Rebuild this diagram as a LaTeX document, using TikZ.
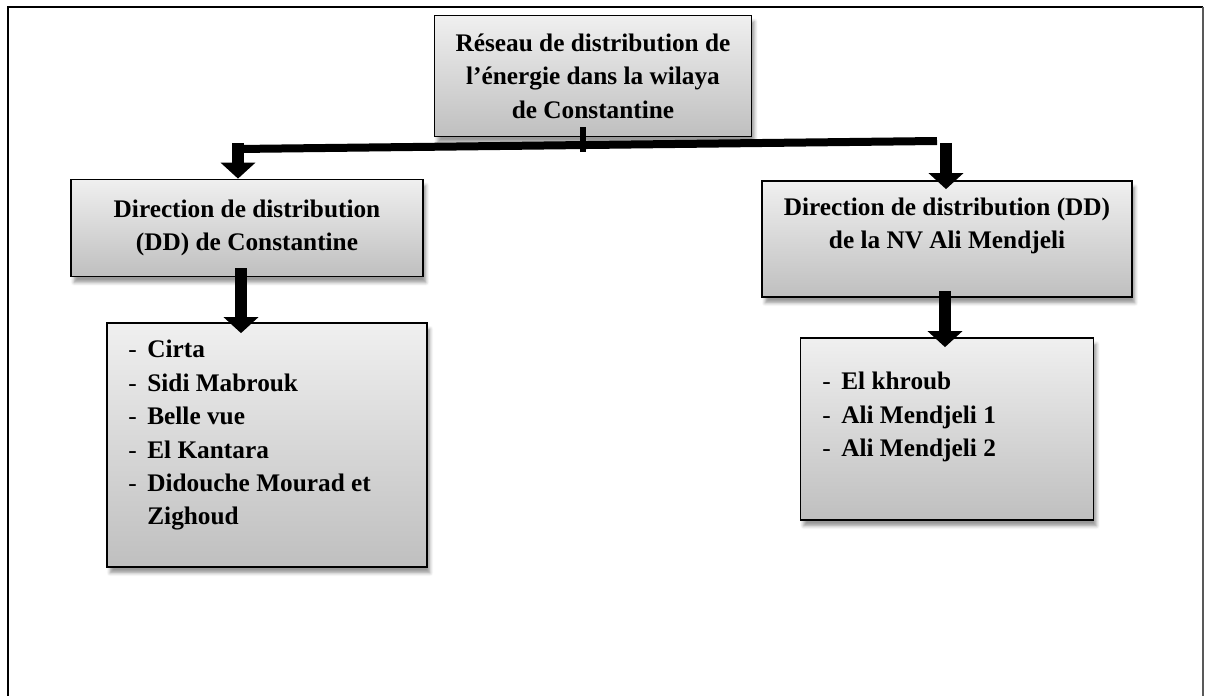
\documentclass[tikz,border=0pt]{standalone}
\usepackage{fontspec}
\setmainfont{Liberation Serif}
\usepackage{tikz}
\usetikzlibrary{arrows.meta,positioning,calc,shadows.blur}

\newcommand{\listitem}[1]{\makebox[0.38cm][l]{\mdseries -}#1}
\newcommand{\listcont}[1]{\hspace*{0.38cm}#1}

\begin{document}
\begin{tikzpicture}[x=0.02cm,y=-0.02cm,
  every node/.style={font=\fontsize{14.4}{19}\selectfont\bfseries},
  panel/.style={draw,line width=1pt,top color=gray!12,bottom color=gray!50,
    blur shadow={shadow xshift=0.6mm,shadow yshift=-1.2mm,shadow opacity=40},
    align=center},
  blockarrow/.style={black,line width=0.25cm,-{Triangle[width=0.68cm,length=0.32cm]}}]
\useasboundingbox (0,0) rectangle (1207,696);
% page frame, open at the bottom
\draw[line width=0.8pt] (8,696) -- (8,7) -- (1203,7);
\draw[gray!70!black,line width=1.4pt] (1203,7) -- (1203,696);

\node[panel,minimum width=6.34cm,minimum height=2.42cm] (top) at (593,76) {Réseau de distribution de\\l’énergie dans la wilaya\\de Constantine};
\node[panel,minimum width=7.04cm,minimum height=1.94cm] (ddL) at (247,228) {Direction de distribution\\(DD) de Constantine};
\node[panel,minimum width=7.4cm,minimum height=2.32cm] (ddR) at (947,239) {};
\node[align=center] (ddRtext) at (947,226) {Direction de distribution (DD)\\de la NV Ali Mendjeli};

\node[panel,minimum width=6.4cm,minimum height=4.88cm] (listL) at (267,445) {};
\node[anchor=north west,inner sep=0pt,align=left] (listLtext) at (128,340)
  {\listitem{Cirta}\\\listitem{Sidi Mabrouk}\\\listitem{Belle vue}\\\listitem{El Kantara}\\
   \listitem{Didouche Mourad et}\\\listcont{Zighoud}};
\node[panel,minimum width=5.86cm,minimum height=3.64cm] (listR) at (947,429) {};
\node[anchor=north west,inner sep=0pt,align=left] (listRtext) at (822,372)
  {\listitem{El khroub}\\\listitem{Ali Mendjeli 1}\\\listitem{Ali Mendjeli 2}};

% branching bar
\coordinate (barL) at (238,149);
\coordinate (barR) at (937,141);
\coordinate (barM) at (583,145);
\draw[line width=0.16cm] (barL) -- (barR);
\draw[line width=0.12cm] ($(top.south -| barM)+(0,-10)$) -- ($(barM)+(0,7)$);

\draw[blockarrow] ($(barL)+(0,-6)$) -- (barL |- ddL.north);
\draw[blockarrow] ($(barR)+(9,2)$) -- ($(barR |- ddR.north)+(9,9)$);
\draw[blockarrow] ($(ddL.south)+(-6,-9)$) -- ($(ddL.south |- listL.north)+(-6,11)$);
\draw[blockarrow] ($(ddR.south)+(-2,-7)$) -- ($(ddR.south |- listR.north)+(-2,10)$);
\end{tikzpicture}
\end{document}
